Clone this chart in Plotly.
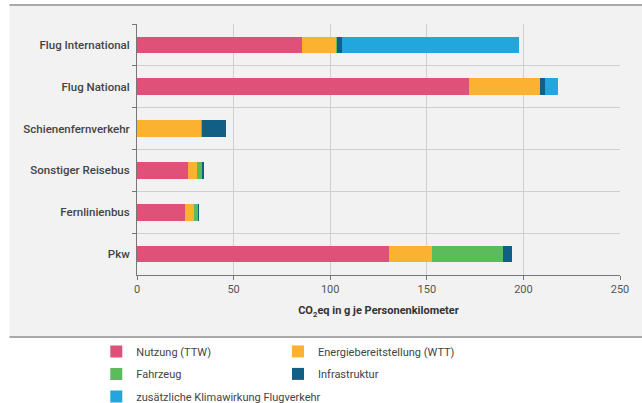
import plotly.graph_objects as go

categories = ["Flug International", "Flug National", "Schienenfernverkehr",
              "Sonstiger Reisebus", "Fernlinienbus", "Pkw"]
nutzung = [85.3, 171.9, 0.0, 26.2, 24.7, 130.4]
energie = [18.1, 36.5, 33.3, 4.6, 4.6, 22.4]
fahrzeug = [0.3, 0.0, 0.5, 3.0, 2.3, 36.7]
infrastruktur = [2.6, 2.8, 12.4, 0.4, 0.3, 4.8]
klima = [91.4, 6.9, 0.0, 0.0, 0.0, 0.0]

series_names = ["Nutzung (TTW)", "Energiebereitstellung (WTT)", "Fahrzeug",
                "Infrastruktur", "zusätzliche Klimawirkung Flugverkehr"]
series_values = [nutzung, energie, fahrzeug, infrastruktur, klima]
series_colors = ["#e0517a", "#fbb231", "#5cbb5a", "#115f84", "#22a6de"]
series_legend = ["legend", "legend2", "legend", "legend2", "legend"]

x_ticks = [0, 50, 100, 150, 200, 250]

FONT = "Roboto, sans-serif"

fig = go.Figure()
for name, vals, col, lg in zip(series_names, series_values, series_colors, series_legend):
    fig.add_trace(go.Bar(
        y=categories, x=vals, name=name, orientation="h",
        marker=dict(color=col, line=dict(width=0)),
        width=0.4, legend=lg, legendgroup=name,
    ))

# background panel
fig.add_shape(type="rect", xref="paper", yref="paper", layer="below",
              x0=-0.264, x1=1.06, y0=-0.247, y1=1.076,
              fillcolor="#f2f2f2", line=dict(width=0))
fig.add_shape(type="line", xref="paper", yref="paper", layer="below",
              x0=-0.264, x1=1.06, y0=1.076, y1=1.076,
              line=dict(color="#a9a9a9", width=2))
fig.add_shape(type="line", xref="paper", yref="paper", layer="below",
              x0=-0.264, x1=1.06, y0=-0.247, y1=-0.247,
              line=dict(color="#a9a9a9", width=2))

fig.update_layout(
    width=642, height=403,
    margin=dict(l=136.5, r=21.5, t=24, b=128, autoexpand=False),
    paper_bgcolor="white", plot_bgcolor="rgba(0,0,0,0)",
    barmode="stack", bargap=0.6,
    font=dict(family=FONT, size=11, color="#444"),
    xaxis=dict(range=[0, 250], tickvals=x_ticks, showgrid=True,
               gridcolor="#cfcfcf", gridwidth=1, zeroline=False,
               showline=True, linecolor="#777", linewidth=1,
               ticks="outside", ticklen=4, tickcolor="#777",
               tickfont=dict(size=11, color="#555"), automargin=False,
               title=dict(text="<b>CO<sub>2</sub>eq in g je Personenkilometer</b>",
                          font=dict(size=11, color="#333"), standoff=11)),
    yaxis=dict(categoryorder="array", categoryarray=categories,
               autorange="reversed", tickson="boundaries",
               showgrid=True, gridcolor="#cfcfcf", gridwidth=1,
               showline=True, linecolor="#777", linewidth=1,
               ticks="outside", ticklen=4, tickcolor="#777", automargin=False,
               tickfont=dict(size=11.5, color="#444", weight=500), ticklabelstandoff=4),
    legend=dict(xref="container", yref="container", x=0.15, y=0.164,
                xanchor="left", yanchor="top", orientation="v",
                tracegroupgap=3.5, font=dict(size=11, color="#444"),
                bgcolor="rgba(0,0,0,0)"),
    legend2=dict(xref="container", yref="container", x=0.433, y=0.164,
                 xanchor="left", yanchor="top", orientation="v",
                 tracegroupgap=3.5, font=dict(size=11, color="#444"),
                 bgcolor="rgba(0,0,0,0)"),
)

fig.write_html("out.html", config={"displayModeBar": False},
               post_script="document.body.style.margin='0';document.body.style.overflow='hidden';")
